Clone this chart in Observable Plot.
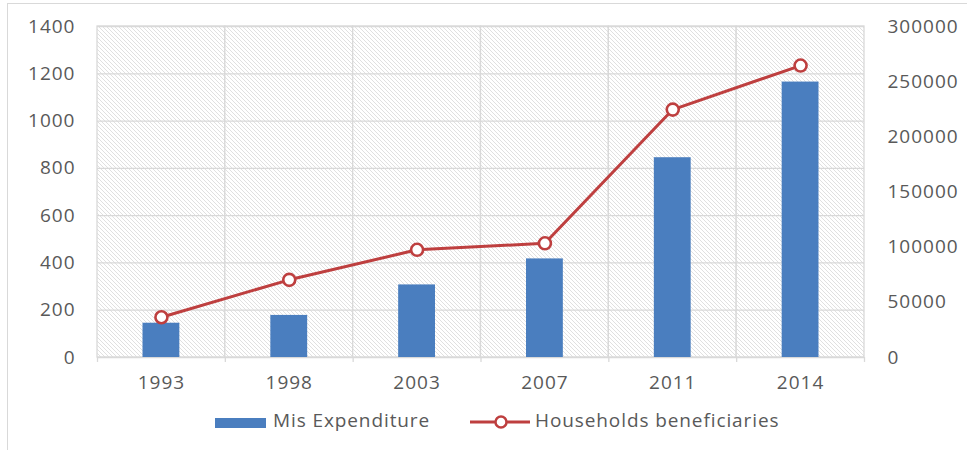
<!DOCTYPE html>
<html>
<head>
<meta charset="utf-8">
<script src="https://cdn.jsdelivr.net/npm/d3@7"></script>
<script src="https://cdn.jsdelivr.net/npm/@observablehq/plot@0.6"></script>
<style>
  html, body { margin: 0; padding: 0; background: #fff; }
  #wrap { position: relative; width: 967px; height: 450px; overflow: hidden; font-family: "Open Sans", sans-serif; color: #595959; }
  #frame { position: absolute; left: 7px; top: 3px; width: 1000px; height: 500px; border: 1.5px solid #d9d9d9; box-sizing: border-box; }
  #chart { position: absolute; left: 0; top: 0; }
  .leg { position: absolute; font-size: 19px; letter-spacing: 0.9px; line-height: 1; color: #595959; white-space: nowrap; }
</style>
</head>
<body>
<div id="wrap">
  <div id="frame"></div>
  <div id="chart"></div>
  <div id="legend"></div>
</div>
<script>
const years = ["1993", "1998", "2003", "2007", "2011", "2014"];
const misExpenditure = [145, 178, 307, 417, 845, 1165];
const households = [36500, 70400, 97600, 103500, 224700, 264600];
const leftTicks = [0, 200, 400, 600, 800, 1000, 1200, 1400];
const rightTicks = [0, 50000, 100000, 150000, 200000, 250000, 300000];
const seriesNames = ["Mis Expenditure", "Households beneficiaries"];

const leftMax = 1400, rightMax = 300000;
const toLeft = v => v / rightMax * leftMax;

const data = years.map((y, i) => ({year: y, exp: misExpenditure[i], hh: households[i]}));

const W = 967, H = 395;
const mL = 97, mR = 103, mT = 26, mB = 38;
const half = (W - mL - mR) / years.length / 2;

const barColor = "#4a7ebf";
const lineColor = "#be3f3f";
const gridColor = "#d9d9d9";

const defsMark = () => {
  const defs = d3.create("svg:defs");
  const p = defs.append("pattern").attr("id", "hatch").attr("patternUnits", "userSpaceOnUse")
    .attr("width", 4).attr("height", 4);
  p.append("rect").attr("width", 4).attr("height", 4).attr("fill", "#ffffff");
  p.append("path").attr("d", "M-1,-1L5,5M-1,3L1,5M3,-1L5,1")
    .attr("stroke", "#e0e0e0").attr("stroke-width", 1);
  return defs.node();
};

const chart = Plot.plot({
  width: W,
  height: H,
  marginLeft: mL,
  marginRight: mR,
  marginTop: mT,
  marginBottom: mB,
  style: {fontFamily: "Open Sans, sans-serif", fontSize: "19px", letterSpacing: "1px", color: "#595959", background: "transparent"},
  x: {type: "band", domain: years, padding: 0, round: false},
  y: {domain: [0, leftMax]},
  marks: [
    defsMark,
    Plot.cell(years, {x: d => d, fill: "url(#hatch)", stroke: gridColor, strokeWidth: 1.3, inset: 0}),
    Plot.ruleY(leftTicks, {stroke: gridColor, strokeWidth: 1.3}),
    Plot.ruleX(years, {x: d => d, y1: 0, y2: -21, dx: -half, stroke: gridColor, strokeWidth: 1.3}),
    Plot.ruleX([years[years.length - 1]], {x: d => d, y1: 0, y2: -21, dx: half, stroke: gridColor, strokeWidth: 1.3}),
    Plot.barY(data, {x: "year", y: "exp", fill: barColor, insetLeft: 45.5, insetRight: 45.5}),
    Plot.line(data, {x: "year", y: d => toLeft(d.hh), stroke: lineColor, strokeWidth: 3}),
    Plot.dot(data, {x: "year", y: d => toLeft(d.hh), r: 6, fill: "#ffffff", stroke: lineColor, strokeWidth: 2.6}),
    Plot.axisY({anchor: "left", ticks: leftTicks, tickFormat: d => String(d), tickSize: 0, tickPadding: 22, label: null}),
    Plot.axisY({anchor: "right", ticks: rightTicks.map(toLeft), tickFormat: d => String(Math.round(d * rightMax / leftMax)), tickSize: 0, tickPadding: 23, label: null}),
    Plot.axisX({anchor: "bottom", tickSize: 0, tickPadding: 18, label: null})
  ]
});
document.getElementById("chart").appendChild(chart);

const legend = document.getElementById("legend");
legend.innerHTML = `
  <div class="leg" style="left:215px; top:418px; width:51px; height:10px; background:${barColor};"></div>
  <div class="leg" style="left:273px; top:411px;">${seriesNames[0]}</div>
  <svg class="leg" style="left:468px; top:412px;" width="64" height="20">
    <line x1="2" y1="10" x2="62" y2="10" stroke="${lineColor}" stroke-width="3"></line>
    <circle cx="33" cy="10" r="5.5" fill="#fff" stroke="${lineColor}" stroke-width="2.5"></circle>
  </svg>
  <div class="leg" style="left:535px; top:411px;">${seriesNames[1]}</div>
`;
</script>
</body>
</html>
